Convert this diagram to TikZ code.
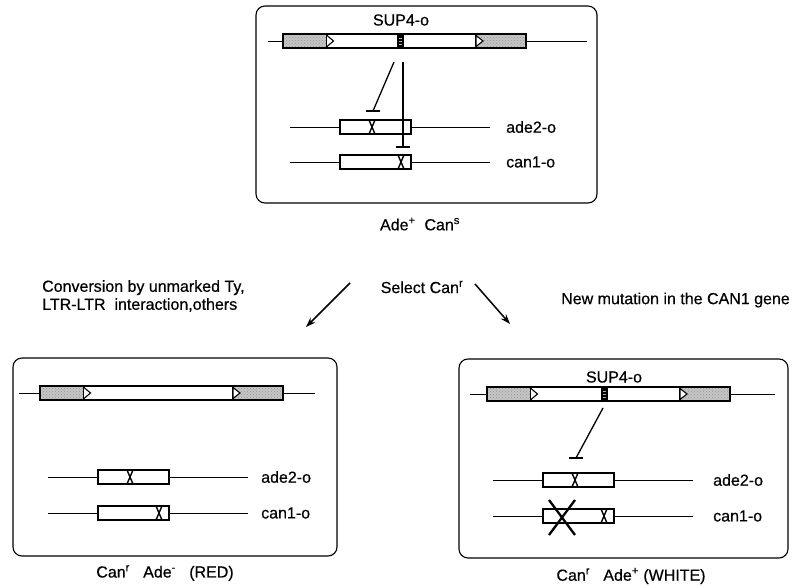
\documentclass[tikz,border=0pt]{standalone}
\usepackage{fontspec}
\setmainfont{Liberation Sans}[FakeBold=0.5]
\usetikzlibrary{arrows.meta,patterns}
\tikzset{
  panel/.style={draw, line width=1.1pt, rounded corners=9pt},
  dna/.style={line width=0.9pt},
  genebox/.style={draw, line width=1.1pt, fill=white},
  xmark/.style={line width=1.4pt},
  inhib/.style={line width=1.3pt},
  lbl/.style={font=\fontsize{16}{18}\selectfont, inner sep=0pt},
  bigarrow/.style={line width=1.5pt, -{Stealth[length=10pt,width=7pt]}},
  ltrfill/.style={fill=gray!45},
  ltrdots/.style={pattern=crosshatch dots, pattern color=gray!85},
}
% Ty element: #1 left x, #2 centre y, #3 = 1 if SUP4 block shown
\newcommand\TyElem[3]{%
  \begin{scope}[shift={(#1,#2)}]
    \fill[white] (0,-7) rectangle (243,7);
    \fill[ltrfill] (0,-7) rectangle (44,7);
    \fill[ltrfill] (193,-7) rectangle (243,7);
    \fill[ltrdots] (0,-7) rectangle (44,7);
    \fill[ltrdots] (193,-7) rectangle (243,7);
    \draw[line width=1.5pt] (0,-7) rectangle (243,7);
    \draw[line width=1.1pt] (44,-7) -- (44,7);
    \draw[line width=1.1pt] (193,-7) -- (193,7);
    \draw[line width=1.1pt, fill=white] (44,-5.5) -- (50.5,0) -- (44,5.5);
    \draw[line width=1.1pt, fill=white] (193,-5.5) -- (200,0) -- (193,5.5) -- cycle;
    \ifnum#3=1
      \fill (114,-7) rectangle (121,7);
      \draw[gray!60, line width=0.5pt] (116,-3) -- (119,-3) (116,0) -- (119,0) (116,3) -- (119,3);
    \fi
  \end{scope}}
% gene line: #1 line start x, #2 y, #3 X offset in box
\newcommand\GeneLine[3]{%
  \begin{scope}[shift={(#1,#2)}]
    \draw[dna] (0,0) -- (200,0);
    \draw[genebox] (50,-7) rectangle (121,7);
    \draw[xmark] (50+#3-3,-7) -- (50+#3+3,7) (50+#3+3,-7) -- (50+#3-3,7);
  \end{scope}}
\begin{document}
\begin{tikzpicture}[x=1pt,y=-1pt]
\path[use as bounding box] (0,0) rectangle (793,588);

% ---------- top panel ----------
\draw[panel] (256,6) rectangle (597,203);
\draw[dna] (268,41) -- (587,41);
\TyElem{283}{41}{1}
\node[lbl] (supA) at (401,20) {SUP4-o};
\GeneLine{290}{127}{32}
\GeneLine{290}{162}{61}
\node[lbl, anchor=west] (adeA) at (506,127) {ade2-o};
\node[lbl, anchor=west] (canA) at (506,162) {can1-o};
\coordinate (iA1) at (394,62);
\coordinate (iA2) at (373,111);
\coordinate (iB1) at (403,62);
\coordinate (iB2) at (403,147);
\draw[inhib] (iA1) -- (iA2);
\draw[inhib] (iA2) ++(-7,0) -- ++(14,0);
\draw[inhib] (iB1) -- (iB2);
\draw[inhib] (iB2) ++(-7,0) -- ++(14,0);
\node[lbl] (capA) at (420,224) {Ade\textsuperscript{+}\ \ Can\textsuperscript{s}};

% ---------- middle ----------
\node[lbl] (sel) at (422,287) {Select Can\textsuperscript{r}};
\node[lbl, align=left, anchor=west] (conv) at (42,296) {Conversion by unmarked Ty,\\LTR-LTR\ \ interaction,others};
\node[lbl, anchor=east] (newm) at (790,300) {New mutation in the CAN1 gene};
\coordinate (la1) at (350,283);
\coordinate (la2) at (306,327);
\coordinate (ra1) at (475,284);
\coordinate (ra2) at (510,324);
\draw[bigarrow] (la1) -- (la2);
\draw[bigarrow] (ra1) -- (ra2);

% ---------- bottom left ----------
\draw[panel] (13,358) rectangle (337,556);
\draw[dna] (19,393) -- (315,393);
\TyElem{40}{393}{0}
\GeneLine{48}{477}{32}
\GeneLine{48}{513}{61}
\node[lbl, anchor=west] (adeB) at (261,477) {ade2-o};
\node[lbl, anchor=west] (canB) at (261,513) {can1-o};
\node[lbl] (capB) at (165,573) {Can\textsuperscript{r}\ \ \ Ade\textsuperscript{-}\ \ \ (RED)};

% ---------- bottom right ----------
\draw[panel] (459,359) rectangle (788,558);
\draw[dna] (470,394) -- (775,394);
\TyElem{487}{394}{1}
\node[lbl] (supC) at (614,377) {SUP4-o};
\GeneLine{493}{480}{32}
\GeneLine{493}{516}{61}
\node[lbl, anchor=west] (adeC) at (713,480) {ade2-o};
\node[lbl, anchor=west] (canC) at (713,516) {can1-o};
\coordinate (iC1) at (603,408);
\coordinate (iC2) at (576,458);
\draw[inhib] (iC1) -- (iC2);
\draw[inhib] (iC2) ++(-7,0) -- ++(14,0);
\coordinate (bx1) at (549,500);
\coordinate (bx2) at (575,535);
\coordinate (bx3) at (575,500);
\coordinate (bx4) at (549,535);
\draw[line width=2.3pt] (bx1) -- (bx2) (bx3) -- (bx4);
\node[lbl] (capC) at (631,576) {Can\textsuperscript{r}\ \ \ Ade\textsuperscript{+} (WHITE)};
\end{tikzpicture}
\end{document}
